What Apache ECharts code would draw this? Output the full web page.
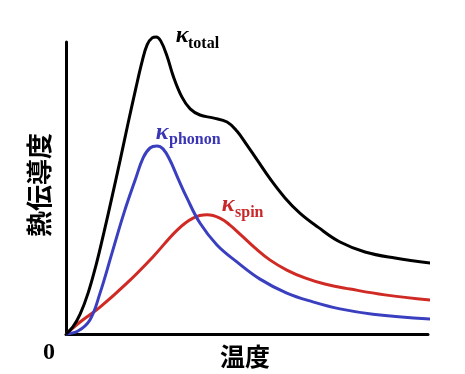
<!DOCTYPE html>
<html><head><meta charset="utf-8">
<script src="https://cdn.jsdelivr.net/npm/echarts@6/dist/echarts.min.js"></script>
<style>html,body{margin:0;padding:0;background:#fff}#c{width:465px;height:374px}</style>
</head><body><div id="c"></div>
<script>
// [temperature, conductivity] in arbitrary units (x 0..100, y 0..100)
const totalData = [[0,0],[1.9,2.4],[3.9,6.8],[6.1,14.0],[8.3,23.6],[10.5,34.9],[12.7,46.9],[14.9,59.2],[17.1,71.9],[19.3,84.2],[21.0,93.2],[22.4,99.0],[23.8,101.4],[24.9,101.7],[26.2,100.3],[27.9,95.2],[29.6,88.4],[32.0,81.2],[34.3,77.1],[37.0,75.0],[40.6,74.0],[44.5,72.6],[47.2,69.5],[50.0,64.7],[52.8,59.6],[56.4,53.1],[60.5,46.6],[64.6,41.4],[69.6,36.6],[75.7,31.5],[82.6,28.1],[90.9,26.0],[100.6,24.3]];
const phononData = [[0,0],[3.3,1.0],[6.6,4.8],[9.4,14.0],[12.7,27.7],[16.0,41.4],[19.1,52.7],[21.3,60.3],[23.2,63.7],[25.1,64.4],[26.8,63.4],[28.7,59.6],[30.9,53.4],[33.4,46.6],[37.0,38.0],[41.7,30.5],[47.2,24.7],[53.6,18.8],[61.0,14.0],[68.2,11.0],[75.7,8.6],[84.8,6.8],[100.6,5.1]];
const spinData = [[0,0],[3.9,4.1],[9.4,9.2],[16.9,17.5],[24.0,26.4],[30.7,35.6],[35.1,39.7],[39.0,40.8],[42.5,39.7],[45.3,37.3],[48.6,33.6],[52.2,29.5],[56.4,25.3],[61.0,21.9],[66.0,19.2],[71.5,17.1],[78.5,15.4],[88.1,13.4],[100.6,11.6]];
const seriesNames = ['total','phonon','spin'];
const seriesColors = ['#000000','#3a3fc0','#d02a25'];
const xLabel = '温度';
const yLabel = '熱伝導度';
const originLabel = '0';

const chart = echarts.init(document.getElementById('c'));
const mk = (name, data, color) => ({
  name, type: 'line', data, smooth: 0.4, symbol: 'none', clip: false,
  lineStyle: {color, width: 3}
});
const serif = '"Liberation Serif","DejaVu Serif",serif';
const cjk = '"Noto Sans CJK JP","Noto Sans CJK SC",sans-serif';
function kLabel(x, y, sub, color, subX, subY) {
  return [
    {type:'text', x:x, y:y, style:{text:'κ', fill:color, font:'italic bold 24px '+serif, textAlign:'center', textVerticalAlign:'middle'}},
    {type:'text', x:subX, y:subY, style:{text:sub, fill:color, font:'bold 16px '+serif, textAlign:'left', textVerticalAlign:'middle'}}
  ];
}
chart.setOption({
  backgroundColor: '#ffffff',
  animation: false,
  grid: {left: 66, right: 37, top: 42, bottom: 40},
  xAxis: {type:'value', min:0, max:100, axisLine:{show:true, lineStyle:{color:'#000', width:3}}, axisTick:{show:false}, axisLabel:{show:false}, splitLine:{show:false}},
  yAxis: {type:'value', min:0, max:100, axisLine:{show:true, lineStyle:{color:'#000', width:3}}, axisTick:{show:false}, axisLabel:{show:false}, splitLine:{show:false}},
  series: [
    mk(seriesNames[2], spinData, seriesColors[2]),
    mk(seriesNames[1], phononData, seriesColors[1]),
    mk(seriesNames[0], totalData, seriesColors[0])
  ],
  graphic: [
    ...kLabel(182, 36, seriesNames[0], seriesColors[0], 188, 44),
    ...kLabel(162, 133, seriesNames[1], '#3a35b5', 169, 140),
    ...kLabel(228, 205, seriesNames[2], '#c8282a', 235, 213),
    {type:'text', x:49, y:353, style:{text:originLabel, fill:'#000', font:'bold 24px '+serif, textAlign:'center', textVerticalAlign:'middle'}},
    {type:'text', x:245, y:356, style:{text:xLabel, fill:'#000', font:'bold 25px '+cjk, textAlign:'center', textVerticalAlign:'middle'}},
    {type:'text', x:39, y:185, rotation:Math.PI/2, style:{text:yLabel, fill:'#000', font:'bold 26px '+cjk, textAlign:'center', textVerticalAlign:'middle'}}
  ]
});
</script></body></html>
